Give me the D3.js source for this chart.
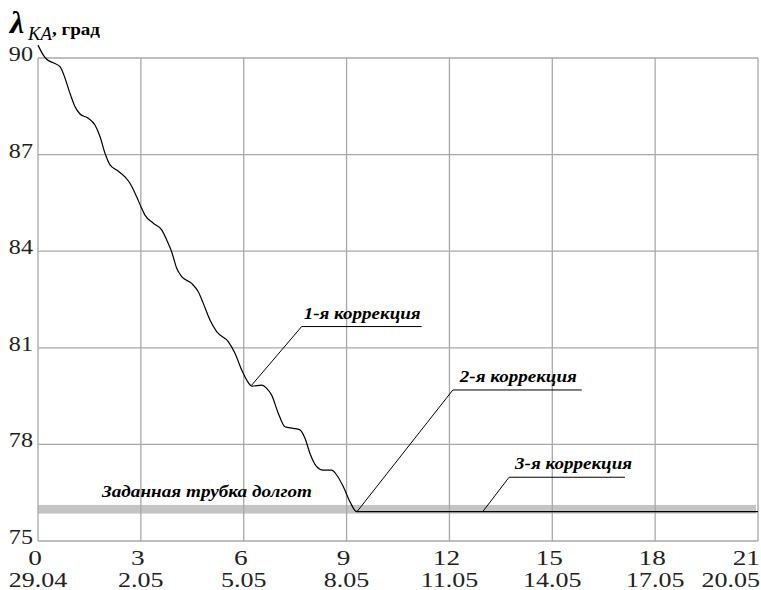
<!DOCTYPE html>
<html>
<head>
    <meta charset="utf-8">
    <script src="https://cdn.jsdelivr.net/npm/d3@7"></script>
    <title></title>
    <style>
        * {
            margin: 0;
            padding: 0;
        }

        body {
            background: white;
        }

        #chart {
            display: block;
        }
    </style>
</head>
<body>

    <svg id="chart" width="761" height="590"></svg>

    <script>
        // days since 29.04 and longitude of the spacecraft, deg
        var days = [0, 0.155, 0.254, 0.446, 0.642, 0.738, 0.933, 1.079, 1.225, 1.467, 1.662, 1.808, 1.954, 2.100, 2.295,
            2.537, 2.683, 2.878, 3.024, 3.120, 3.363, 3.608, 3.753, 3.899, 4.045, 4.191, 4.482, 4.675, 4.821, 5.016,
            5.211, 5.550, 5.745, 5.941, 6.086, 6.241, 6.524, 6.670, 6.815, 7.008, 7.203, 7.445, 7.641, 7.787, 7.932,
            8.128, 8.320, 8.565, 8.711, 8.903, 9.099, 9.294, 21];
        var lambda = [90.40, 90.09, 89.96, 89.85, 89.73, 89.52, 88.90, 88.49, 88.26, 88.13, 87.92, 87.56, 87.04, 86.68, 86.52,
            86.31, 86.11, 85.69, 85.33, 85.12, 84.87, 84.66, 84.35, 83.98, 83.47, 83.21, 83.00, 82.74, 82.38, 81.86,
            81.50, 81.19, 80.83, 80.31, 80.00, 79.81, 79.84, 79.74, 79.53, 78.97, 78.55, 78.50, 78.45, 78.19, 77.72,
            77.31, 77.20, 77.20, 77.05, 76.69, 76.22, 75.91, 75.91];

        var xTicks = [0, 3, 6, 9, 12, 15, 18, 21];
        var dateLabels = ["29.04", "2.05", "5.05", "8.05", "11.05", "14.05", "17.05", "20.05"];
        var yTicks = [75, 78, 81, 84, 87, 90];

        // required longitude tube
        var tube = [75.85, 76.12];
        var tubeLabel = "Заданная трубка долгот";

        // corrections: point on curve, elbow of leader, end of underline
        var corrNames = ["1-я коррекция", "2-я коррекция", "3-я коррекция"];
        var corrAt = [[6.232, 79.84], [9.303, 75.91], [12.97, 75.91]];
        var corrElbow = [[7.69, 81.66], [12.10, 79.69], [13.74, 76.98]];
        var corrEnd = [11.19, 15.86, 17.12];

        var svg = d3.select("#chart")
            .attr("font-family", "'Liberation Serif', 'Times New Roman', serif");

        var x = d3.scaleLinear().domain([0, 21]).range([38, 758]);
        var y = d3.scaleLinear().domain([75, 90]).range([541, 58]);

        var grid = "#a8a8a8";

        // tube band
        svg.append("rect")
            .attr("x", x(0))
            .attr("y", y(tube[1]))
            .attr("width", x(21) - x(0) - 2)
            .attr("height", y(tube[0]) - y(tube[1]))
            .style("fill", "#c4c4c4");

        // grid
        svg.append("g").selectAll("line")
            .data(xTicks)
            .enter()
            .append("line")
            .attr("x1", function (d) { return x(d) })
            .attr("x2", function (d) { return x(d) })
            .attr("y1", y(75))
            .attr("y2", y(90))
            .style("stroke", grid)
            .style("stroke-width", 1.3);

        svg.append("g").selectAll("line")
            .data(yTicks)
            .enter()
            .append("line")
            .attr("x1", x(0))
            .attr("x2", x(21))
            .attr("y1", function (d) { return y(d) })
            .attr("y2", function (d) { return y(d) })
            .style("stroke", grid)
            .style("stroke-width", 1.3);

        // tick labels (the picture is stretched sideways)
        svg.append("g").selectAll("text")
            .data(yTicks)
            .enter()
            .append("text")
            .attr("transform", function (d) { return "translate(33," + (y(d) + 3) + ") scale(1.15,1)" })
            .attr("text-anchor", "end")
            .style("font-size", "21px")
            .style("fill", "#222")
            .text(function (d) { return d });

        svg.append("g").selectAll("text")
            .data(xTicks)
            .enter()
            .append("text")
            .attr("transform", function (d, i) {
                var px = i == xTicks.length - 1 ? 760 : x(d) - 3;
                return "translate(" + px + ",565) scale(1.3,1)";
            })
            .attr("text-anchor", function (d, i) { return i == xTicks.length - 1 ? "end" : "middle" })
            .style("font-size", "21px")
            .style("fill", "#222")
            .text(function (d) { return d });

        svg.append("g").selectAll("text")
            .data(dateLabels)
            .enter()
            .append("text")
            .attr("transform", function (d, i) {
                var px = i == dateLabels.length - 1 ? 760 : Math.max(x(xTicks[i]), 36);
                return "translate(" + px + ",587) scale(1.3,1)";
            })
            .attr("text-anchor", function (d, i) { return i == dateLabels.length - 1 ? "end" : "middle" })
            .style("font-size", "20px")
            .style("fill", "#222")
            .text(function (d) { return d });

        // axis title
        svg.append("text")
            .attr("x", 10)
            .attr("y", 33)
            .style("font-size", "32px")
            .style("font-style", "italic")
            .style("font-weight", "bold")
            .text("λ");
        svg.append("text")
            .attr("x", 28)
            .attr("y", 40)
            .attr("textLength", 24)
            .attr("lengthAdjust", "spacingAndGlyphs")
            .style("font-size", "18px")
            .style("font-style", "italic")
            .text("KA");
        svg.append("text")
            .attr("x", 52)
            .attr("y", 35)
            .attr("textLength", 48)
            .attr("lengthAdjust", "spacingAndGlyphs")
            .style("font-size", "17px")
            .style("font-weight", "bold")
            .text(", град");

        // curve
        var pts = days.map(function (d, i) { return [d, lambda[i]] });
        var line = d3.line()
            .x(function (d) { return x(d[0]) })
            .y(function (d) { return y(d[1]) })
            .curve(d3.curveMonotoneX);

        svg.append("path")
            .attr("d", line(pts))
            .style("fill", "none")
            .style("stroke", "black")
            .style("stroke-width", 1.2);

        // tube label
        svg.append("text")
            .attr("x", 102)
            .attr("y", 497)
            .attr("textLength", 210)
            .attr("lengthAdjust", "spacingAndGlyphs")
            .style("font-size", "17px")
            .style("font-style", "italic")
            .style("font-weight", "bold")
            .text(tubeLabel);

        // corrections
        var corr = svg.selectAll("g.corr")
            .data(corrNames)
            .enter()
            .append("g")
            .attr("class", "corr");

        corr.append("path")
            .attr("d", function (d, i) {
                return "M" + x(corrAt[i][0]) + "," + y(corrAt[i][1]) +
                    "L" + x(corrElbow[i][0]) + "," + y(corrElbow[i][1]) +
                    "L" + x(corrEnd[i]) + "," + y(corrElbow[i][1]);
            })
            .style("fill", "none")
            .style("stroke", "black")
            .style("stroke-width", 1);

        corr.append("text")
            .attr("x", function (d, i) { return x(corrElbow[i][0]) + [2, 7, 6][i] })
            .attr("y", function (d, i) { return y(corrElbow[i][1]) - 8 })
            .attr("textLength", 117)
            .attr("lengthAdjust", "spacingAndGlyphs")
            .style("font-size", "17px")
            .style("font-style", "italic")
            .style("font-weight", "bold")
            .text(function (d) { return d });
    </script>
</body>
</html>
